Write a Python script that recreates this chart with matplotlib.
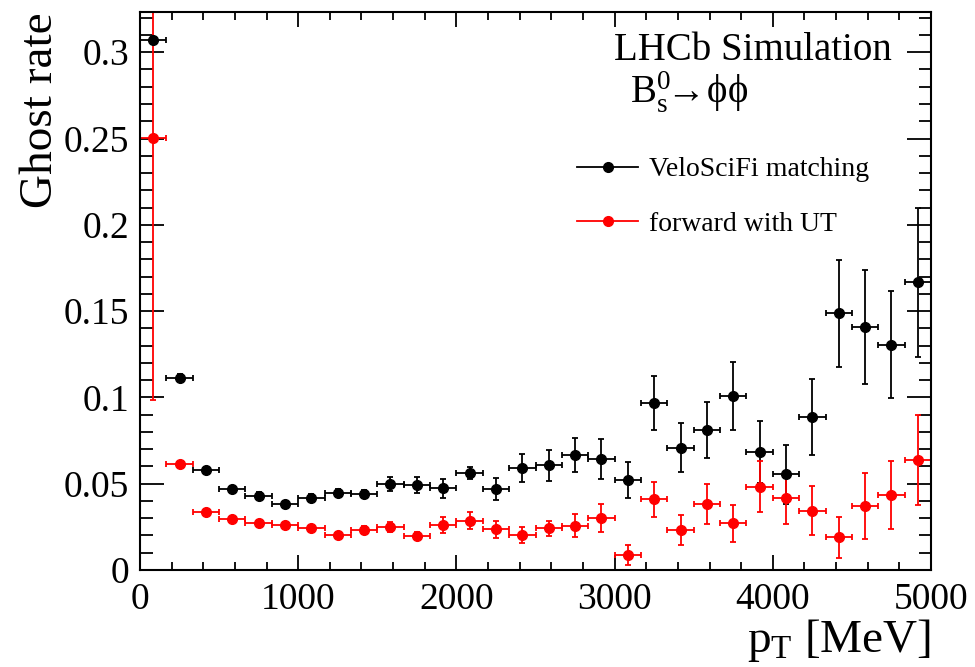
"""
ghost rate vs pT, VeloSciFi matching vs forward with UT
"""
import matplotlib
matplotlib.use('Agg')
import matplotlib.pyplot as plt
from matplotlib import ticker
from matplotlib.lines import Line2D
import numpy as np

plt.rcParams['font.family'] = ['Liberation Serif', 'DejaVu Serif']
plt.rcParams['mathtext.fontset'] = 'custom'
plt.rcParams['mathtext.rm'] = 'Liberation Serif'
plt.rcParams['mathtext.it'] = 'Liberation Serif'
plt.rcParams['mathtext.bf'] = 'Liberation Serif:bold'

# 30 bins of pT between 0 and 5000 MeV
bin_edges = np.linspace(0, 5000, 31)
pt = 0.5*(bin_edges[1:] + bin_edges[:-1])
pt_err = 0.5*(bin_edges[1:] - bin_edges[:-1])

ghost_match = [0.307, 0.1114, 0.0579, 0.0467, 0.0431, 0.0382, 0.0419, 0.0448, 0.0440, 0.0498,
               0.0492, 0.0473, 0.0560, 0.0469, 0.0593, 0.0608, 0.0666, 0.0643, 0.0521, 0.0966,
               0.0709, 0.0811, 0.1008, 0.0686, 0.0554, 0.0888, 0.1487, 0.1410, 0.1304, 0.1667]
ghost_match_err = [0.002, 0.002, 0.0018, 0.0018, 0.002, 0.002, 0.002, 0.002, 0.0025, 0.0043,
                   0.0048, 0.0053, 0.0034, 0.0066, 0.0082, 0.009, 0.0099, 0.0114, 0.0104, 0.0157,
                   0.014, 0.016, 0.0195, 0.018, 0.017, 0.022, 0.031, 0.033, 0.031, 0.043]

ghost_fwd = [0.2505, 0.0612, 0.0338, 0.0294, 0.0274, 0.0261, 0.0241, 0.0203, 0.0232, 0.0251,
             0.0199, 0.0261, 0.0286, 0.0236, 0.0203, 0.0241, 0.0257, 0.0300, 0.0087, 0.0411,
             0.0232, 0.0382, 0.0270, 0.0483, 0.0415, 0.0344, 0.0190, 0.0371, 0.0435, 0.0637]
ghost_fwd_err = [0.152, 0.0015, 0.0015, 0.0015, 0.0015, 0.0015, 0.0015, 0.002, 0.0025, 0.003,
                 0.002, 0.0046, 0.0048, 0.0048, 0.0048, 0.0043, 0.0068, 0.008, 0.0058, 0.0101,
                 0.0087, 0.0118, 0.0106, 0.0147, 0.015, 0.0144, 0.0118, 0.0192, 0.0197, 0.0259]

labels = ['VeloSciFi matching', 'forward with UT']
colors = ['k', 'r']

f = plt.figure(figsize=(9.75, 6.67), dpi=100)
ax = f.add_axes([0.1436, 0.1454, 0.8113, 0.8366])

for y, ye, c in zip([ghost_match, ghost_fwd], [ghost_match_err, ghost_fwd_err], colors):
    ax.errorbar(pt, y, xerr=pt_err, yerr=ye, fmt='o', color=c, ms=7, elinewidth=1.3,
                capsize=2.2, capthick=1.3)

ax.set_xlim([0, 5000])
ax.set_ylim([0, 0.3233])
ax.xaxis.set_major_locator(ticker.MultipleLocator(1000))
ax.xaxis.set_minor_locator(ticker.MultipleLocator(200))
ax.yaxis.set_major_locator(ticker.MultipleLocator(0.05))
ax.yaxis.set_minor_locator(ticker.MultipleLocator(0.01))
ax.yaxis.set_major_formatter(ticker.FuncFormatter(lambda v, p: '%g' % round(v, 3)))
ax.tick_params(which='both', direction='in', top=True, right=True, labelsize=27, width=1.3)
ax.tick_params(axis='x', which='major', length=11, pad=9)
ax.tick_params(axis='x', which='minor', length=5.5)
ax.tick_params(axis='y', which='major', length=17.5, pad=8)
ax.tick_params(axis='y', which='minor', length=9)
for s in ax.spines.values():
    s.set_linewidth(1.5)

ax.set_ylabel('Ghost rate', fontsize=34, loc='top')
ax.yaxis.set_label_coords(-0.098, 1.0)
ax.set_xlabel(r'p$_\mathrm{T}$ [MeV]', fontsize=34, loc='right')
ax.xaxis.set_label_coords(1.0, -0.085)

f.text(0.9149, 0.910, 'LHCb Simulation', fontsize=28, ha='right', va='baseline')
f.text(0.646, 0.8456, r'$\mathrm{B}^{0}_{\mathrm{s}}\!\!\rightarrow\!\phi\phi$', fontsize=28,
       ha='left', va='baseline')

handles = [Line2D([], [], color=c, marker='o', ms=7, lw=1.3) for c in colors]
ax.legend(handles, labels, loc='upper left', bbox_to_anchor=(0.535, 0.765), frameon=False,
          fontsize=20, handlelength=2.2, handletextpad=0.4, labelspacing=1.05, borderpad=0)

f.savefig('out.png', dpi=100)
